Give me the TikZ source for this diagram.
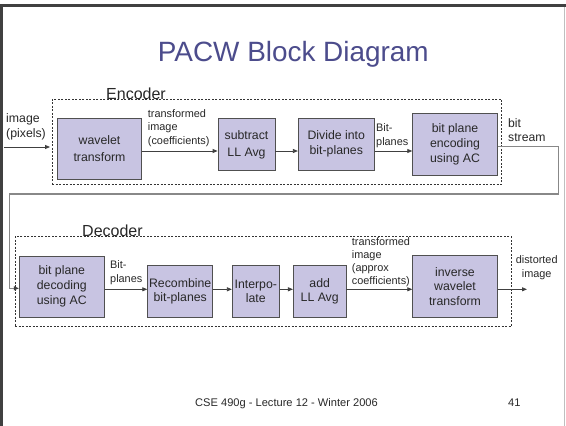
\documentclass[tikz,border=0pt]{standalone}
\usepackage{fontspec}
\setmainfont{Liberation Sans}
\usetikzlibrary{arrows.meta}
\definecolor{boxfill}{RGB}{200,196,226}
\definecolor{boxline}{RGB}{80,80,80}
\definecolor{titleblue}{RGB}{76,76,140}
\definecolor{framegray}{RGB}{64,64,64}
\definecolor{linkgray}{RGB}{136,136,136}
\definecolor{txt}{RGB}{40,40,40}
\begin{document}
\begin{tikzpicture}[x=1pt,y=-1pt,
  blk/.style={draw=boxline, fill=boxfill, line width=0.8pt, inner sep=0pt, align=center, text=txt,
    font=\fontsize{12.3}{15}\selectfont},
  lbl/.style={inner sep=0pt, align=left, text=txt, font=\fontsize{10.9}{13.6}\selectfont},
  biglbl/.style={inner sep=0pt, align=left, text=txt, font=\fontsize{12.3}{15.5}\selectfont},
  arr/.style={draw=framegray, line width=0.8pt, -{Triangle[length=5pt,width=4pt]}},
  feed/.style={draw=linkgray, line width=1.1pt, -{Triangle[length=5pt,width=4pt,color=framegray]}},
  grp/.style={draw=black!80, line width=0.7pt, dash pattern=on 2pt off 1.5pt, inner sep=0pt},
  grplbl/.style={inner sep=0pt, anchor=base west, text=txt, font=\fontsize{16}{18}\selectfont},
]
\useasboundingbox (0,0) rectangle (566,426);
\fill[white] (0,0) rectangle (566,426);
% slide frame
\draw[framegray, line width=2.8pt] (0,5.8) -- (566,5.8);
\draw[framegray, line width=2.7pt] (1.3,4.4) -- (1.3,426);
\draw[black!25, line width=0.8pt] (564.3,7) -- (564.3,426);

% title
\node[inner sep=0pt, anchor=base, text=titleblue, font=\fontsize{27.9}{30}\selectfont] (title) at (293.3,61.7) {PACW Block Diagram};

% group frames
\node[grp, minimum width=449.7pt, minimum height=84.7pt] (encgrp) at (276.85,141.65) {};
\node[grp, minimum width=496pt, minimum height=90pt] (decgrp) at (263,281.7) {};
\node[grplbl] (enclbl) at (106,99) {Encoder};
\node[grplbl] (declbl) at (82,236.5) {Decoder};

% encoder blocks
\node[blk, minimum width=84.4pt, minimum height=61pt, font=\fontsize{12.3}{16.6}\selectfont] (wav) at (99.5,148.8) {wavelet\\transform};
\node[blk, minimum width=57pt, minimum height=52.4pt, font=\fontsize{12.3}{17}\selectfont] (sub) at (246.5,144.5) {subtract\\LL Avg};
\node[blk, minimum width=76pt, minimum height=51.7pt] (div) at (336.3,144.2) {Divide into\\bit-planes};
\node[blk, minimum width=84.6pt, minimum height=61.7pt] (enc) at (455,144.2) {bit plane\\encoding\\using AC};

% decoder blocks
\node[blk, minimum width=85pt, minimum height=61.3pt] (dec) at (61.8,286.7) {bit plane\\decoding\\using AC};
\node[blk, minimum width=65pt, minimum height=52.3pt, font=\fontsize{12.3}{14.2}\selectfont] (rec) at (180.2,291.2) {Recombine\\bit-planes};
\node[blk, minimum width=47pt, minimum height=52.3pt, font=\fontsize{12.3}{14.5}\selectfont] (int) at (255.8,291.2) {Interpo-\\late};
\node[blk, minimum width=52.7pt, minimum height=52.3pt, font=\fontsize{12.3}{14.7}\selectfont] (add) at (319.7,291.2) {add\\LL Avg};
\node[blk, minimum width=84.6pt, minimum height=61.6pt, font=\fontsize{12.3}{14.5}\selectfont] (inv) at (455,286.5) {inverse\\wavelet\\transform};

% labels
\node[biglbl, anchor=west] (inlbl) at (6,127) {image\\(pixels)};
\node[lbl, anchor=west] (tlbl) at (147.7,128) {transformed\\image\\(coefficients)};
\node[lbl, anchor=west] (bp1) at (376,135.9) {Bit-\\planes};
\node[biglbl, anchor=west, font=\fontsize{12.2}{14.6}\selectfont] (bs) at (508,130) {bit\\stream};
\node[lbl, anchor=west] (bp2) at (110,272.5) {Bit-\\planes};
\node[lbl, anchor=west, font=\fontsize{10.9}{13}\selectfont] (tlbl2) at (351.7,262.2) {transformed\\image\\(approx\\coefficients)};
\node[lbl, align=center, font=\fontsize{10.9}{13.3}\selectfont] (dist) at (536.7,267.7) {distorted\\image};

% connector coordinates
\coordinate (rowA) at (0,151);
\coordinate (rowB) at (0,289.3);
\coordinate (inS) at (4,147);
\coordinate (inE) at (50,147);
\coordinate (fbS) at (0,146.7);
\coordinate (fbA) at (558.3,194);
\coordinate (fbB) at (9.7,194);
\coordinate (fbC) at (0,288.3);
\coordinate (outE) at (527,289.3);

% encoder connectors
\draw[arr] (inS) -- (inE);
\draw[arr] (wav.east |- rowA) -- (sub.west |- rowA);
\draw[arr] (sub.east |- rowA) -- (div.west |- rowA);
\draw[arr] (div.east |- rowA) -- (enc.west |- rowA);

% feedback
\draw[feed] (enc.east |- fbS) -| (fbA) -- (fbB) |- (dec.west |- fbC);

% decoder connectors
\draw[arr] (dec.east |- rowB) -- (rec.west |- rowB);
\draw[arr] (rec.east |- rowB) -- (int.west |- rowB);
\draw[arr] (int.east |- rowB) -- (add.west |- rowB);
\draw[arr] (add.east |- rowB) -- (inv.west |- rowB);
\draw[arr] (inv.east |- outE) -- (outE);

% footer
\node[inner sep=0pt, anchor=base west, text=txt, font=\fontsize{11.1}{13}\selectfont] (foot) at (195,406.7) {CSE 490g - Lecture 12 - Winter 2006};
\node[inner sep=0pt, anchor=base west, text=txt, font=\fontsize{11.1}{13}\selectfont] (pnum) at (508,406.7) {41};
\end{tikzpicture}
\end{document}
